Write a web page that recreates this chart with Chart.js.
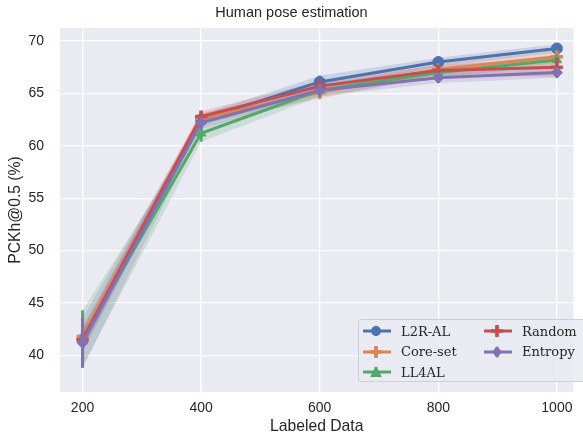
<!DOCTYPE html>
<html>
<head>
<meta charset="utf-8">
<script src="https://cdn.jsdelivr.net/npm/chart.js@4.4.1/dist/chart.umd.min.js"></script>
<style>
  html, body { margin: 0; padding: 0; background: #fff; }
  #wrap { position: relative; width: 583px; height: 436px; overflow: hidden; }
  #legend {
    position: absolute; left: 358px; top: 319px; width: 240px; height: 61px;
    border: 1px solid #cfcfd6; border-radius: 3px; background: rgba(234,234,242,0.85);
    font-family: "DejaVu Serif", serif; font-size: 13px; color: #262626;
  }
  .item { position: absolute; display: flex; align-items: center; height: 20px; }
  .item svg { margin-right: 9px; }
</style>
</head>
<body>
<div id="wrap">
  <canvas id="chart" width="583" height="436"></canvas>
  <div id="legend"></div>
</div>
<script>
const labeled = [200, 400, 600, 800, 1000];
const xTicks = [200, 400, 600, 800, 1000];
const yTicks = [40, 45, 50, 55, 60, 65, 70];

const seriesNames = ['L2R-AL', 'Core-set', 'LL4AL', 'Random', 'Entropy'];
const l2rAl   = [41.5, 62.5, 66.1, 68.0, 69.3];
const coreSet = [41.8, 62.6, 65.1, 67.3, 68.5];
const ll4al   = [41.6, 61.2, 65.3, 67.0, 68.2];
const random  = [41.5, 62.8, 65.7, 67.2, 67.5];
const entropy = [41.2, 62.2, 65.3, 66.5, 67.0];

// std used for error bars and shaded bands
const l2rAlStd   = [1.0, 0.5, 0.6, 0.4, 0.4];
const coreSetStd = [0.6, 0.5, 0.6, 0.5, 0.6];
const ll4alStd   = [2.7, 0.8, 0.6, 0.5, 0.5];
const randomStd  = [1.2, 0.5, 0.5, 0.5, 0.9];
const entropyStd = [2.4, 0.6, 0.6, 0.5, 0.5];

const colors = ['#4C72B0', '#DD8452', '#55A868', '#C44E52', '#8172B3'];
const markers = ['circle', 'cross', 'triangle', 'cross', 'rectRot'];
const means = [l2rAl, coreSet, ll4al, random, entropy];
const stds = [l2rAlStd, coreSetStd, ll4alStd, randomStd, entropyStd];

function alpha(hex, a) {
  const n = parseInt(hex.slice(1), 16);
  return `rgba(${n >> 16},${(n >> 8) & 255},${n & 255},${a})`;
}

const datasets = [];
means.forEach((m, i) => {
  const pts = v => labeled.map((x, k) => ({ x: x, y: v[k] }));
  datasets.push({
    label: seriesNames[i] + ' hi', data: pts(m.map((v, k) => v + stds[i][k])),
    borderWidth: 0, pointRadius: 0, fill: '+1', backgroundColor: alpha(colors[i], 0.2),
    order: 20 - i, band: true
  });
  datasets.push({
    label: seriesNames[i] + ' lo', data: pts(m.map((v, k) => v - stds[i][k])),
    borderWidth: 0, pointRadius: 0, fill: false, backgroundColor: 'transparent',
    order: 20 - i, band: true
  });
  datasets.push({
    label: seriesNames[i], data: pts(m), std: stds[i],
    borderColor: colors[i], backgroundColor: colors[i], borderWidth: 3,
    pointStyle: markers[i], pointRadius: markers[i] === 'cross' ? 6 : 5.5,
    pointBorderWidth: markers[i] === 'cross' ? 3.5 : 1,
    fill: false, tension: 0, order: 10 - i
  });
});

const plotBg = {
  id: 'plotBg',
  beforeDraw(chart) {
    const { ctx, chartArea: a } = chart;
    ctx.save();
    ctx.fillStyle = '#EAEAF2';
    ctx.fillRect(a.left, a.top, a.right - a.left, a.bottom - a.top);
    ctx.restore();
  }
};

const errorBars = {
  id: 'errorBars',
  beforeDatasetDraw(chart, args) {
    const ds = chart.data.datasets[args.index];
    if (!ds.std) return;
    const { ctx, scales: { x, y } } = chart;
    ctx.save();
    ctx.strokeStyle = ds.borderColor;
    ctx.lineWidth = 3;
    ds.data.forEach((p, k) => {
      const px = x.getPixelForValue(p.x);
      ctx.beginPath();
      ctx.moveTo(px, y.getPixelForValue(p.y - ds.std[k]));
      ctx.lineTo(px, y.getPixelForValue(p.y + ds.std[k]));
      ctx.stroke();
    });
    ctx.restore();
  }
};

Chart.defaults.font.family = '"Liberation Sans", Arial, sans-serif';
Chart.defaults.color = '#262626';

new Chart(document.getElementById('chart'), {
  type: 'line',
  data: { datasets: datasets },
  options: {
    responsive: false,
    animation: false,
    layout: { padding: { left: 0, right: 0, top: 0, bottom: 0 } },
    plugins: {
      legend: { display: false },
      tooltip: { enabled: false },
      title: {
        display: true, text: 'Human pose estimation', color: '#262626',
        font: { size: 14.5, weight: 'normal' }, padding: { top: 4, bottom: 6.6 }
      }
    },
    scales: {
      x: {
        type: 'linear', min: 162, max: 1028,
        afterBuildTicks: s => { s.ticks = xTicks.map(v => ({ value: v })); },
        afterFit: s => { s.height = 44; },
        grid: { color: '#ffffff', lineWidth: 1.3, drawTicks: false },
        border: { display: false },
        ticks: { font: { size: 14 }, padding: 8, maxRotation: 0, callback: v => String(v) },
        title: { display: true, text: 'Labeled Data', font: { size: 15.7 }, padding: { top: 1, bottom: 0 } }
      },
      y: {
        type: 'linear', min: 36.5, max: 71.25,
        afterBuildTicks: s => { s.ticks = yTicks.map(v => ({ value: v })); },
        afterFit: s => { s.width = 60; },
        grid: { color: '#ffffff', lineWidth: 1.3, drawTicks: false },
        border: { display: false },
        ticks: { font: { size: 14 }, padding: 16, callback: v => String(v) },
        title: { display: true, text: 'PCKh@0.5 (%)', font: { size: 15.7 }, padding: { top: 6, bottom: 0 } }
      }
    }
  },
  plugins: [plotBg, errorBars]
});

// legend, two columns like the reference
const legendPos = [[0, 0], [0, 1], [0, 2], [1, 0], [1, 1]];
const legend = document.getElementById('legend');
seriesNames.forEach((name, i) => {
  const c = colors[i];
  let mk = '';
  if (markers[i] === 'circle') mk = `<circle cx="14" cy="8" r="5" fill="${c}"/>`;
  else if (markers[i] === 'cross') mk = `<path d="M14 2V14M8 8H20" stroke="${c}" stroke-width="3.5"/>`;
  else if (markers[i] === 'triangle') mk = `<path d="M14 2L20 13H8Z" fill="${c}"/>`;
  else mk = `<path d="M14 2L19 8L14 14L9 8Z" fill="${c}"/>`;
  const el = document.createElement('div');
  el.className = 'item';
  el.style.left = (legendPos[i][0] ? 124 : 3) + 'px';
  el.style.top = (legendPos[i][1] * 20.5 + 1) + 'px';
  el.innerHTML = `<svg width="30" height="16"><path d="M1 8H29" stroke="${c}" stroke-width="3"/>` +
    `<path d="M14 3V13" stroke="${c}" stroke-width="3"/>${mk}</svg><span>${name}</span>`;
  legend.appendChild(el);
});
</script>
</body>
</html>
